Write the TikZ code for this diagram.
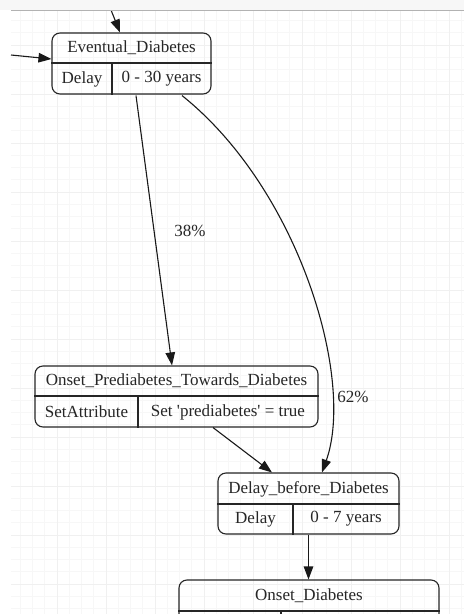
\documentclass[tikz,border=0pt]{standalone}
\usepackage{fontspec}
\setmainfont{Liberation Serif}[Ligatures=TeXOff]
\usetikzlibrary{arrows.meta,calc}
\begin{document}
\begin{tikzpicture}[x=1pt,y=-1pt,
  box/.style={draw=black!85,line width=1.1pt,rounded corners=8pt,minimum width=#1,minimum height=61pt,inner sep=0pt},
  divider/.style={draw=black!85,line width=1.1pt},
  lbl/.style={font=\fontsize{17}{20}\selectfont,text=black!85,inner sep=0pt,anchor=center},
  edge/.style={draw=black!90,line width=1.1pt,-{Triangle[length=13pt,width=9.5pt]}},
  minorgrid/.style={draw=black!3,line width=0.8pt},
  majorgrid/.style={draw=black!6,line width=0.9pt}]
\useasboundingbox (0,0) rectangle (464,614);
\clip (0,0) rectangle (464,614);
\fill[white] (0,0) rectangle (464,614);
% grid
\begin{scope}
\clip (11,10) rectangle (464,614);
\foreach \gx in {8,20.25,...,470} {\draw[minorgrid] (\gx,10) -- (\gx,614);}
\foreach \gy in {8.25,20.5,...,620} {\draw[minorgrid] (11,\gy) -- (464,\gy);}
\foreach \gx in {57,106,...,470} {\draw[majorgrid] (\gx,10) -- (\gx,614);}
\foreach \gy in {45,94,...,620} {\draw[majorgrid] (11,\gy) -- (464,\gy);}
\end{scope}

% boxes
\node[box=159pt] (E) at (131.5,63.5) {};
\draw[divider] (E.west |- 0,63) -- (E.east |- 0,63);
\draw[divider] (112,63) -- (E.south -| 112,0);
\node[lbl] (Et) at (131.5,48) {Eventual\_Diabetes};
\node[lbl] (Ea) at (82,79) {Delay};
\node[lbl] (Eb) at (161.5,79) {0 - 30 years};

\node[box=283pt] (P) at (176.5,396.5) {};
\draw[divider] (P.west |- 0,396) -- (P.east |- 0,396);
\draw[divider] (138,396) -- (P.south -| 138,0);
\node[lbl] (Pt) at (176.5,381) {Onset\_Prediabetes\_Towards\_Diabetes};
\node[lbl] (Pa) at (86.5,412) {SetAttribute};
\node[lbl] (Pb) at (228,412) {Set 'prediabetes' = true};

\node[box=181pt] (D) at (308.5,503.5) {};
\draw[divider] (D.west |- 0,504) -- (D.east |- 0,504);
\draw[divider] (293,504) -- (D.south -| 293,0);
\node[lbl] (Dt) at (308.5,489) {Delay\_before\_Diabetes};
\node[lbl] (Da) at (255.5,519) {Delay};
\node[lbl] (Db) at (346,519) {0 - 7 years};

\node[box=260pt] (O) at (309,610.5) {};
\draw[divider] (O.west |- 0,611) -- (O.east |- 0,611);
\draw[divider] (281,611) -- (O.south -| 281,0);
\node[lbl] (Ot) at (309,596) {Onset\_Diabetes};

% incoming connectors
\coordinate (topin) at (107,0);
\coordinate (leftin) at (11,55);
\draw[edge] (topin) -- ($(E.north)+(-11.5,0)$);
\draw[edge] (leftin) -- ($(E.west)+(0,-4.5)$);

% connectors
\draw[edge] ($(E.south)+(4.5,1)$) -- ($(P.north)+(-4.5,0)$);
\node[lbl] (l38) at (190,231) {38\%};
\draw[edge] ($(E.south)+(50.5,1)$) .. controls (300,190) and (355,380) .. ($(D.north)+(13.5,0)$);
\node[lbl] (l62) at (353,397) {62\%};
\draw[edge] ($(P.south)+(36.5,0)$) -- ($(D.north)+(-36.5,0)$);
\draw[edge] (D.south) -- (D.south |- O.north);

% header strip
\fill[black!3] (0,0) rectangle (464,9.5);
\draw[black!30,line width=1pt] (11,10) -- (464,10);
\end{tikzpicture}
\end{document}
